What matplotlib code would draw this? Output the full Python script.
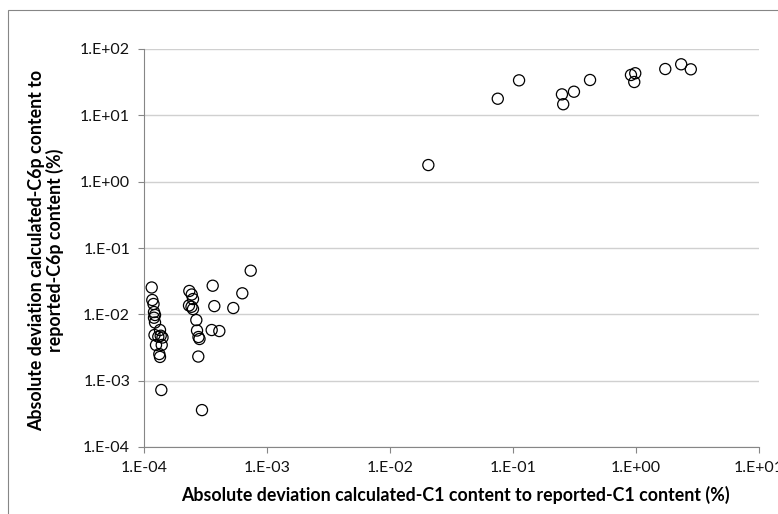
import numpy as np
import matplotlib.pyplot as plt
from matplotlib.ticker import FixedLocator, FuncFormatter, NullLocator
from matplotlib.patches import Rectangle

plt.rcParams["font.family"] = ["Lato", "DejaVu Sans"]

grey = "#868686"
grid_grey = "#D0D0D0"

# ------------------------------------------ data ------------------------------------------ #
c1_dev = [
    1.155e-4, 1.168e-4, 1.195e-4, 1.206e-4, 1.229e-4, 1.206e-4, 1.229e-4, 1.217e-4,
    1.349e-4, 1.367e-4, 1.414e-4, 1.307e-4, 1.252e-4, 1.393e-4, 1.332e-4, 1.349e-4, 1.383e-4,
    2.336e-4, 2.443e-4, 2.502e-4, 2.322e-4, 2.433e-4, 2.502e-4, 2.663e-4, 2.698e-4,
    2.773e-4, 2.826e-4, 2.763e-4, 2.961e-4,
    3.618e-4, 3.729e-4, 3.550e-4, 4.096e-4, 5.32e-4, 6.30e-4, 7.37e-4,
    0.0205,
    0.0752, 0.112, 0.250, 0.256, 0.313, 0.423, 0.91, 0.986, 0.968, 1.73, 2.33, 2.79,
]
c6p_dev = [
    0.0254, 0.01644, 0.01431, 0.01083, 0.00977, 0.00889, 0.00753, 0.00488,
    0.00580, 0.00476, 0.00447, 0.00460, 0.00345, 0.00345, 0.00252, 0.00228, 0.000723,
    0.0225, 0.0199, 0.0170, 0.0136, 0.0130, 0.0120, 0.0082, 0.0057,
    0.00455, 0.00425, 0.00231, 0.00036,
    0.0270, 0.0133, 0.0058, 0.0056, 0.01245, 0.02075, 0.0455,
    1.78,
    17.8, 33.7, 20.7, 14.7, 22.7, 34.1, 40.6, 43.1, 31.8, 49.9, 58.8, 49.4,
]

x_ticks = [1e-4, 1e-3, 1e-2, 1e-1, 1e0, 1e1]
y_ticks = [1e-4, 1e-3, 1e-2, 1e-1, 1e0, 1e1, 1e2]

x_label = "Absolute deviation calculated-C1 content to reported-C1 content (%)"
y_label = "Absolute deviation calculated-C6p content to\nreported-C6p content (%)"


def sci_label(v, _pos):
    return f"1.E{int(round(np.log10(v))):+03d}"


W, H = 778, 514
fig = plt.figure(figsize=(W / 100, H / 100), dpi=100)
ax = fig.add_axes([144 / W, 1 - 447 / H, (759 - 144) / W, (447 - 49) / H])

ax.scatter(c1_dev, c6p_dev, s=64, facecolors="none", edgecolors="black",
           linewidths=0.9, zorder=3, clip_on=False)

ax.set_xscale("log")
ax.set_yscale("log")
ax.set_xlim(1e-4, 1e1)
ax.set_ylim(1e-4, 1e2)
ax.xaxis.set_major_locator(FixedLocator(x_ticks))
ax.yaxis.set_major_locator(FixedLocator(y_ticks))
ax.xaxis.set_minor_locator(NullLocator())
ax.yaxis.set_minor_locator(NullLocator())
ax.xaxis.set_major_formatter(FuncFormatter(sci_label))
ax.yaxis.set_major_formatter(FuncFormatter(sci_label))

ax.grid(axis="y", color=grid_grey, linewidth=1.0, zorder=0)
ax.set_axisbelow(True)
for side in ["top", "right"]:
    ax.spines[side].set_visible(False)
for side in ["left", "bottom"]:
    ax.spines[side].set_color(grey)
    ax.spines[side].set_linewidth(0.8)
ax.tick_params(axis="both", which="major", direction="out", length=4, width=0.8,
               color=grey, labelsize=11.5, labelcolor="#111111")
ax.tick_params(axis="y", pad=6)
ax.tick_params(axis="x", pad=6)

fig.text(455 / W, 1 - 495 / H, x_label, ha="center", va="center",
         fontsize=12.8, fontweight="bold")
fig.text(46 / W, 1 - 250 / H, y_label, ha="center", va="center", rotation=90,
         multialignment="center", fontsize=12.8, fontweight="bold", linespacing=1.05)

# chart frame, cut by the right and bottom edges of the picture
fig.patches.append(Rectangle((8 / W, -0.1), 1.2, 1.1 - 10.5 / H, transform=fig.transFigure,
                             fill=False, edgecolor=grey, linewidth=0.8))

fig.savefig("out.png", dpi=100)
